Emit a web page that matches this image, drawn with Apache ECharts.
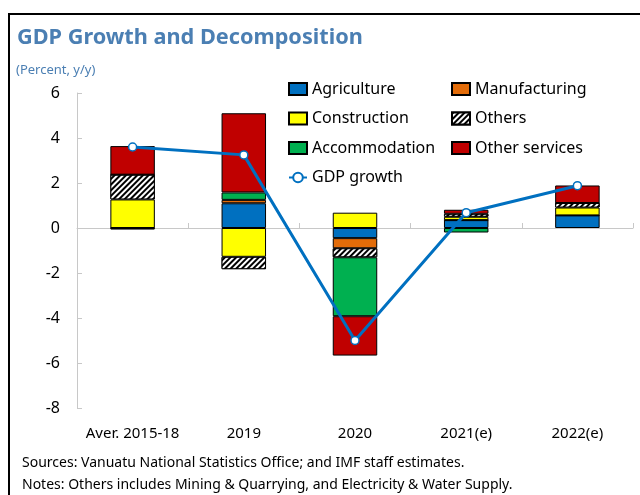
<!DOCTYPE html>
<html>
<head>
<meta charset="utf-8">
<script src="https://cdn.jsdelivr.net/npm/echarts@6/dist/echarts.min.js"></script>
<style>
  html, body { margin: 0; padding: 0; background: #fff; }
  #chart { width: 640px; height: 495px; }
</style>
</head>
<body>
<div id="chart"></div>
<script>
// categories and contributions (percentage points)
const categories = ['Aver. 2015-18', '2019', '2020', '2021(e)', '2022(e)'];
const agriculture = [0, 1.1, -0.45, 0.35, 0.56];
const manufacturing = [-0.07, 0.15, -0.45, 0, 0];
const construction = [1.27, -1.28, 0.68, 0.15, 0.35];
const others = [1.1, -0.55, -0.4, 0.13, 0.2];
const accommodation = [0, 0.33, -2.62, -0.2, 0];
const otherServices = [1.27, 3.52, -1.75, 0.18, 0.78];
const gdpGrowth = [3.6, 3.25, -5.0, 0.68, 1.88];

const FONT = '"Noto Sans", sans-serif';
const BLUE_TITLE = '#4b7fb3';

let chart = echarts.init(document.getElementById('chart'));

function barSeries(name, data, color, extra) {
  let s = {
    name: name,
    type: 'bar',
    stack: 'gdp',
    barWidth: '40%',
    data: data,
    itemStyle: {color: color, borderColor: '#000', borderWidth: 1}
  };
  if (extra) Object.assign(s.itemStyle, extra);
  return s;
}

const legendText = {fontFamily: FONT, fontSize: 16, color: '#000'};
const rectIcon = ['Agriculture', 'Construction', 'Accommodation', 'Manufacturing', 'Others', 'Other services'];

function legendItems(names) {
  return names.map(function (n) {
    return rectIcon.indexOf(n) >= 0 ? {name: n, icon: 'rect'} : {name: n};
  });
}

let option = {
  animation: false,
  textStyle: {fontFamily: FONT},
  title: [
    {text: 'GDP Growth and Decomposition', left: 17, top: 27, padding: 0,
      textStyle: {fontFamily: FONT, fontSize: 21.7, fontWeight: 'bold', color: BLUE_TITLE}},
    {text: '(Percent, y/y)', left: 16, top: 64, padding: 0,
      textStyle: {fontFamily: FONT, fontSize: 13, fontWeight: 'normal', color: BLUE_TITLE}},
    {text: 'Sources: Vanuatu National Statistics Office; and IMF staff estimates.', left: 22, top: 456, padding: 0,
      textStyle: {fontFamily: FONT, fontSize: 14, fontWeight: 'normal', color: '#000'}},
    {text: 'Notes: Others includes Mining & Quarrying, and Electricity & Water Supply.', left: 22, top: 478, padding: 0,
      textStyle: {fontFamily: FONT, fontSize: 14, fontWeight: 'normal', color: '#000'}}
  ],
  legend: [
    {orient: 'vertical', left: 288, top: 81, itemWidth: 18, itemHeight: 12, itemGap: 13.5,
      data: legendItems(['Agriculture', 'Construction', 'Accommodation', 'GDP growth']), textStyle: legendText, padding: 0},
    {orient: 'vertical', left: 451, top: 81, itemWidth: 18, itemHeight: 12, itemGap: 13.5,
      data: legendItems(['Manufacturing', 'Others', 'Other services']), textStyle: legendText, padding: 0}
  ],
  grid: {left: 77, right: 7, top: 93, bottom: 87},
  xAxis: [
    {type: 'category', data: categories,
      axisLine: {onZero: true, lineStyle: {color: '#c8c8c8', width: 1}},
      axisTick: {show: true, inside: true, length: 5, lineStyle: {color: '#c8c8c8'}},
      axisLabel: {show: false}},
    {type: 'category', data: categories, position: 'bottom',
      axisLine: {show: false}, axisTick: {show: false},
      axisLabel: {fontFamily: FONT, fontSize: 15, color: '#000', margin: 18, interval: 0}}
  ],
  yAxis: {
    type: 'value', min: -8, max: 6, interval: 2,
    axisLine: {show: true, lineStyle: {color: '#c8c8c8'}},
    axisTick: {show: true, inside: true, length: 5, lineStyle: {color: '#c8c8c8'}},
    splitLine: {show: false},
    axisLabel: {fontFamily: FONT, fontSize: 16, color: '#000', margin: 17}
  },
  series: [
    barSeries('Agriculture', agriculture, '#0070c0'),
    barSeries('Manufacturing', manufacturing, '#e36c09'),
    barSeries('Construction', construction, '#ffff00'),
    barSeries('Others', others, '#ffffff', {
      decal: {symbol: 'rect', symbolSize: 1, color: '#000', backgroundColor: '#fff',
        dashArrayX: [1, 0], dashArrayY: [2, 2], rotation: -Math.PI / 4}
    }),
    barSeries('Accommodation', accommodation, '#00b050'),
    barSeries('Other services', otherServices, '#c00000'),
    {
      name: 'GDP growth', type: 'line', data: gdpGrowth, z: 5,
      symbol: 'circle', symbolSize: 8, showSymbol: true,
      lineStyle: {color: '#0070c0', width: 3},
      itemStyle: {color: '#fff', borderColor: '#0070c0', borderWidth: 1.5}
    }
  ],
  graphic: [
    {type: 'rect', silent: true, shape: {x: 9, y: 14, width: 700, height: 600},
      style: {fill: 'none', stroke: '#000', lineWidth: 2}}
  ]
};

chart.setOption(option);
</script>
</body>
</html>
